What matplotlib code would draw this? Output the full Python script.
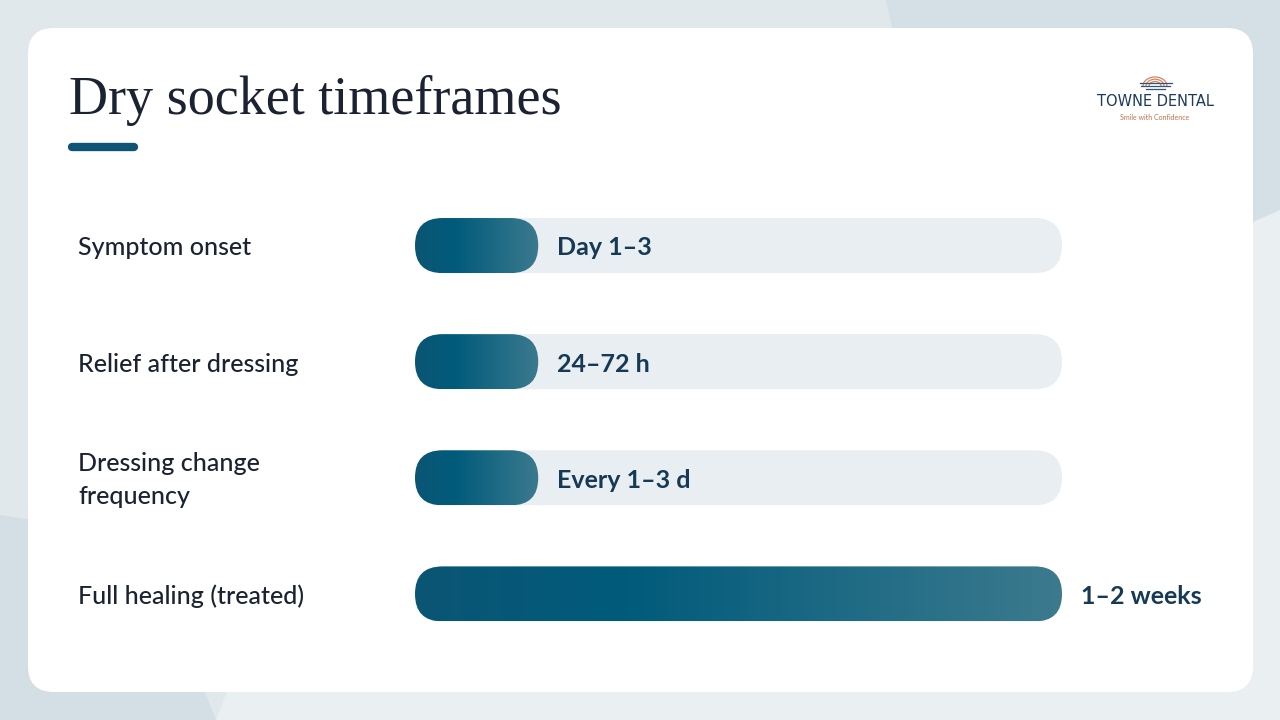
import matplotlib
matplotlib.use("Agg")
from matplotlib import pyplot as plt
from matplotlib import transforms
from matplotlib.patches import FancyBboxPatch, Polygon
from matplotlib.colors import LinearSegmentedColormap
import numpy as np

# data: midpoint of each timeframe, in days
labels = ["Symptom onset", "Relief after dressing", "Dressing change\nfrequency", "Full healing (treated)"]
values = [2, 2, 2, 10.5]
value_text = ["Day 1\u20133", "24\u201372 h", "Every 1\u20133 d", "1\u20132 weeks"]
scale_max = 10.5

title = "Dry socket timeframes"
sans = ["Lato", "DejaVu Sans"]
navy = "#1b2333"

fig = plt.figure(figsize=(12.8, 7.2), dpi=100)

# background layer in pixel coordinates
bg = fig.add_axes([0, 0, 1, 1])
bg.set_xlim(0, 1280)
bg.set_ylim(720, 0)
bg.axis("off")
bg.add_patch(Polygon([(0, 0), (1280, 0), (1280, 720), (0, 720)], color="#e0e8eb", lw=0))
bg.add_patch(Polygon([(886, 0), (1280, 0), (1280, 210), (1100, 320), (930, 200)], color="#d4e0e6", lw=0))
bg.add_patch(Polygon([(1280, 210), (1280, 720), (216, 720), (300, 500), (900, 380)], color="#eaf0f2", lw=0))
bg.add_patch(Polygon([(0, 515), (85, 528), (205, 692), (216, 720), (0, 720)], color="#d3dfe5", lw=0))

card = FancyBboxPatch((28, 28), 1225, 664, boxstyle="round,pad=0,rounding_size=26",
                      fc="white", ec="none")
bg.add_patch(card)

# title + accent
bg.text(69, 114, title, fontsize=39, family=["Liberation Serif", "DejaVu Serif"],
        color=navy, va="baseline", ha="left")
bg.plot([72, 134], [147, 147], color="#0d5475", lw=6, solid_capstyle="round")

# logo
th = np.linspace(0, np.pi, 40)
for r in (6, 9, 12):
    bg.plot(1155 + r * np.cos(th), 86 - r * 0.75 * np.sin(th), color="#d9835f", lw=0.9)
for yy, x0, x1 in ((83, 1140, 1172), (86, 1141, 1170), (89, 1146, 1165)):
    bg.plot([x0, x1], [yy, yy], color="#2f5678", lw=0.9)
bg.text(1155, 102, "TOWNE DENTAL", fontsize=10.5, family=["Liberation Sans Narrow", "DejaVu Sans"],
        color="#1e3a5f", ha="center", va="center")
bg.text(1155, 117, "Smile with Confidence", fontsize=5, family=sans,
        color="#c0704f", ha="center", va="center")

# bar axes
ax = fig.add_axes([415 / 1280, (720 - 652) / 720, 647 / 1280, 464.5 / 720])
ax.set_xlim(0, scale_max)
ax.set_ylim(len(values) - 0.5, -0.5)
ax.axis("off")
ax.patch.set_alpha(0)

ypos = np.arange(len(values))
bar_h = 55 / 116
px_x = 647 / scale_max
px_y = 464.5 / len(values)
aspect = px_x / px_y
rsize = bar_h / aspect / 2

cmap = LinearSegmentedColormap.from_list("g", [(0, "#0b5574"), (0.33, "#015b7b"), (1, "#3c7a8e")])
grad = np.linspace(0, 1, 256).reshape(1, -1)

track = ax.barh(ypos, [scale_max] * len(values), height=bar_h, color="none")
fill = ax.barh(ypos, values, height=bar_h, color="none")

for tb, fb in zip(track, fill):
    x, y = tb.get_x(), tb.get_y()
    w, h = tb.get_width(), tb.get_height()
    ax.add_patch(FancyBboxPatch((x, y), w, h, boxstyle=f"round,pad=0,rounding_size={rsize}",
                                mutation_aspect=aspect, fc="#e9eef2", ec="none", zorder=1))
    x, y = fb.get_x(), fb.get_y()
    w, h = fb.get_width(), fb.get_height()
    clip = FancyBboxPatch((x, y), w, h, boxstyle=f"round,pad=0,rounding_size={rsize}",
                          mutation_aspect=aspect, fc="none", ec="none")
    ax.add_patch(clip)
    im = ax.imshow(grad, cmap=cmap, extent=(x, x + w, y + h, y), aspect="auto",
                   interpolation="bicubic", zorder=2)
    im.set_clip_path(clip)

ax.set_xlim(0, scale_max)
ax.set_ylim(len(values) - 0.5, -0.5)

lab_tr = transforms.blended_transform_factory(fig.transFigure, ax.transData)
for i, (lab, v, vt) in enumerate(zip(labels, values, value_text)):
    ax.text(78 / 1280, i + 0.02, lab, transform=lab_tr, fontsize=18, family=sans, weight="medium",
            color=navy, ha="left", va="center", linespacing=1.5, clip_on=False)
    ax.annotate(vt, (v, i + 0.02), xytext=(13.5, 0), textcoords="offset points", fontsize=18,
                family=sans, weight="bold", color="#163a56", ha="left", va="center",
                annotation_clip=False, zorder=3)

fig.savefig("out.png", dpi=100)
